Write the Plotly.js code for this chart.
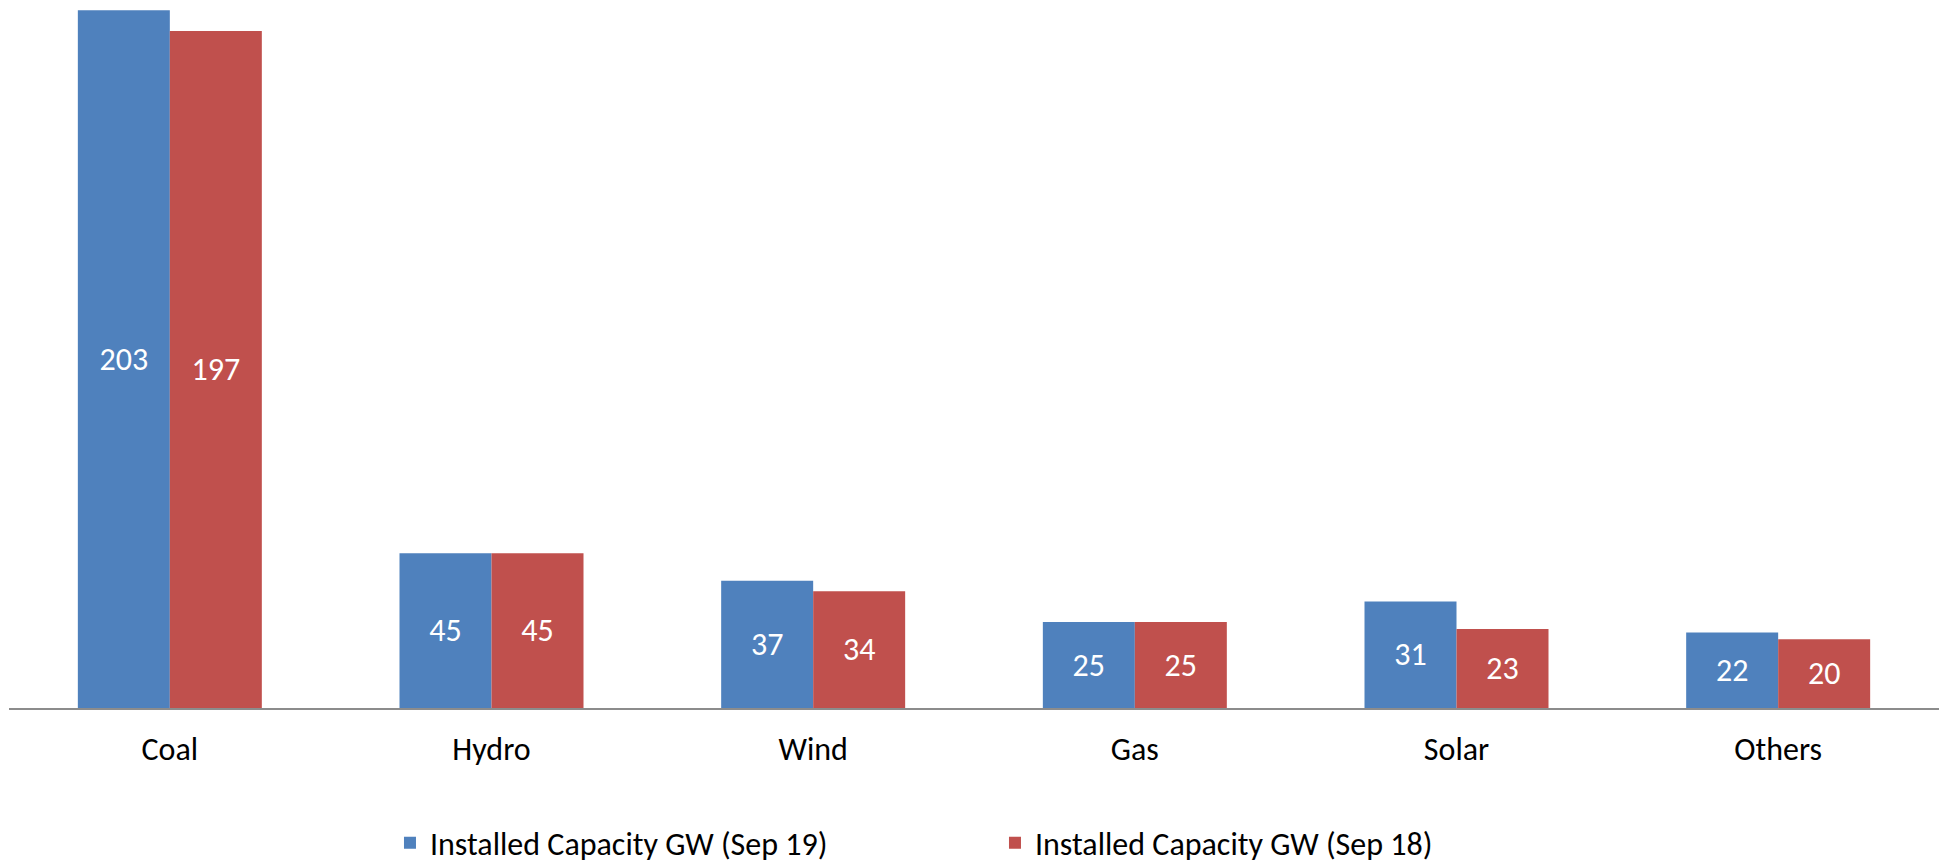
<!DOCTYPE html>
<html>
<head>
<meta charset="utf-8">
<script src="https://cdn.plot.ly/plotly-3.0.1.min.js"></script>
<style>
html,body{margin:0;padding:0;background:#fff;}
#chart{width:1939px;height:865px;}
</style>
</head>
<body>
<div id="chart"></div>
<script>
const categories = ["Coal", "Hydro", "Wind", "Gas", "Solar", "Others"];
const sep19 = [203, 45, 37, 25, 31, 22];
const sep18 = [197, 45, 34, 25, 23, 20];
const seriesNames = ["Installed Capacity GW (Sep 19)", "Installed Capacity GW (Sep 18)"];

const FONT = "Calibri, Carlito, Lato, sans-serif";
const FS = 32;

function mk(vals, name, color) {
  return {
    type: "bar",
    x: categories,
    y: vals,
    name: name,
    marker: {color: color, line: {width: 0}},
    text: vals.map(String),
    textposition: "inside",
    insidetextanchor: "middle",
    textangle: 0,
    textfont: {family: FONT, size: FS, color: "#ffffff"},
    constraintext: "none",
    hoverinfo: "x+y+name"
  };
}

const data = [
  mk(sep19, seriesNames[0], "#4F81BD"),
  mk(sep18, seriesNames[1], "#C0504D")
];

const layout = {
  width: 1939,
  height: 865,
  margin: {l: 9, r: 0, t: 0, b: 157, autoexpand: false},
  paper_bgcolor: "#ffffff",
  plot_bgcolor: "#ffffff",
  barmode: "group",
  bargap: 0.428,
  bargroupgap: 0,
  showlegend: true,
  font: {family: FONT, size: FS, color: "#000000"},
  xaxis: {
    type: "category",
    showline: true,
    linecolor: "#8c8c8c",
    linewidth: 2,
    ticks: "",
    showgrid: false,
    zeroline: false,
    tickfont: {family: FONT, size: FS, color: "#000000"},
    ticklabelstandoff: 12,
    automargin: false
  },
  yaxis: {
    range: [0, 206],
    visible: false,
    showgrid: false,
    zeroline: false
  },
  legend: {
    orientation: "h",
    x: 0.1974,
    xanchor: "left",
    y: -0.1907,
    yanchor: "middle",
    font: {family: FONT, size: FS, color: "#000000"},
    entrywidth: 560,
    entrywidthmode: "pixels",
    itemwidth: 30,
    traceorder: "normal"
  }
};

Plotly.newPlot("chart", data, layout, {staticPlot: true, displayModeBar: false});
</script>
</body>
</html>
